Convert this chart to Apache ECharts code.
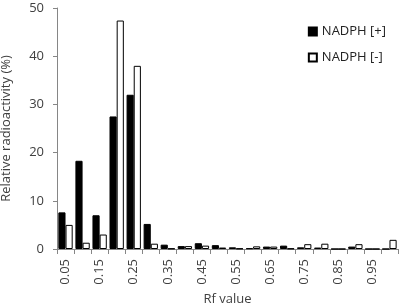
<!DOCTYPE html>
<html>
<head>
<meta charset="utf-8">
<script src="https://cdn.jsdelivr.net/npm/echarts@6/dist/echarts.min.js"></script>
<style>
  html, body { margin: 0; padding: 0; background: #fff; }
  #chart { width: 400px; height: 307px; }
</style>
</head>
<body>
<div id="chart"></div>
<script>
// Rf categories
var rfValues = ['0.05', '0.10', '0.15', '0.20', '0.25', '0.30', '0.35', '0.40', '0.45', '0.50',
  '0.55', '0.60', '0.65', '0.70', '0.75', '0.80', '0.85', '0.90', '0.95', '1.00']
// NADPH [+] (black bars)
var nadphPlus = [7.6, 18.3, 7.0, 27.5, 32.0, 5.2, 0.9, 0.6, 1.2, 0.8,
  0.35, 0.15, 0.5, 0.7, 0.35, 0.3, 0, 0.5, 0, 0]
// NADPH [-] (white bars)
var nadphMinus = [5.0, 1.3, 3.0, 47.4, 38.0, 1.1, 0.1, 0.6, 0.7, 0.3,
  0.1, 0.55, 0.5, 0.1, 1.0, 1.1, 0, 1.0, 0, 1.9]
var yTicks = [0, 10, 20, 30, 40, 50]

var textColor = '#404040'
var axisColor = '#868686'
var font = 'Open Sans'

var myChart = echarts.init(document.getElementById('chart'))
myChart.setOption({
  animation: false,
  textStyle: { fontFamily: font },
  legend: {
    orient: 'vertical',
    right: 9,
    top: 20,
    itemWidth: 8,
    itemHeight: 8,
    itemGap: 13,
    icon: 'rect',
    textStyle: { color: '#222', fontSize: 13, fontFamily: font },
    data: ['NADPH [+]', 'NADPH [-]'],
  },
  grid: {
    left: 57,
    right: 2,
    top: 8,
    bottom: 58,
    outerBoundsMode: 'none',
  },
  xAxis: {
    type: 'category',
    data: rfValues,
    name: 'Rf value',
    nameLocation: 'middle',
    nameGap: 44,
    nameTextStyle: { color: textColor, fontSize: 13, fontFamily: font },
    axisLine: { lineStyle: { color: axisColor, width: 1 } },
    axisTick: { show: true, interval: 0, length: 5, lineStyle: { color: axisColor } },
    axisLabel: {
      interval: 1,
      rotate: 90,
      margin: 10,
      color: textColor,
      fontSize: 13,
      fontFamily: font,
    },
  },
  yAxis: {
    type: 'value',
    min: yTicks[0],
    max: yTicks[yTicks.length - 1],
    interval: 10,
    name: 'Relative radioactivity (%)',
    nameLocation: 'middle',
    nameGap: 44,
    nameTextStyle: { color: textColor, fontSize: 13, fontFamily: font },
    axisLine: { show: true, lineStyle: { color: axisColor, width: 1 } },
    axisTick: { show: true, inside: false, length: 4, lineStyle: { color: axisColor } },
    axisLabel: { color: textColor, fontSize: 13, margin: 13, fontFamily: font },
    splitLine: { show: false },
  },
  series: [
    {
      name: 'NADPH [+]',
      type: 'bar',
      data: nadphPlus,
      barGap: '0%',
      barCategoryGap: '16%',
      itemStyle: { color: '#000', borderColor: '#000', borderWidth: 1 },
    },
    {
      name: 'NADPH [-]',
      type: 'bar',
      data: nadphMinus,
      barGap: '0%',
      barCategoryGap: '16%',
      itemStyle: { color: '#fff', borderColor: '#000', borderWidth: 1 },
    },
  ],
})
</script>
</body>
</html>
